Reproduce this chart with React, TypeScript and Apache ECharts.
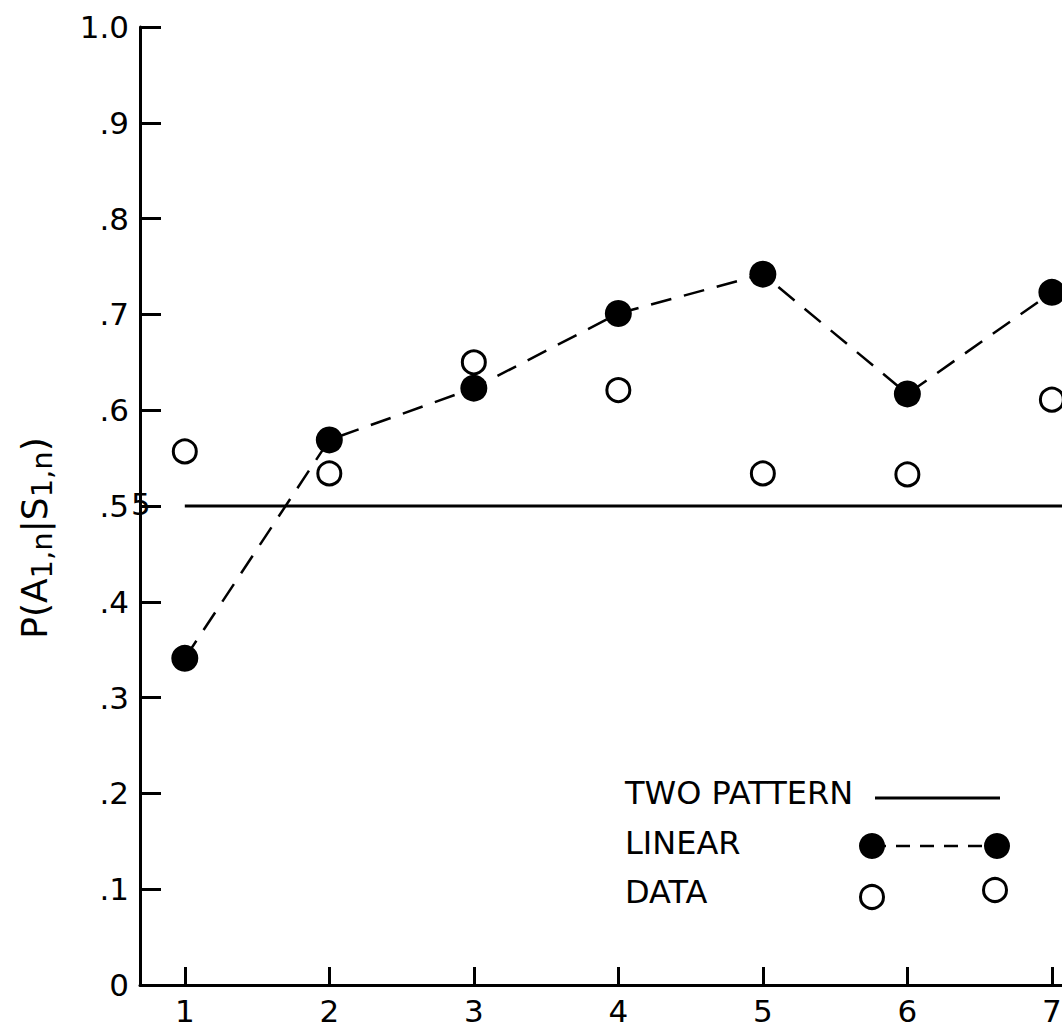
import React, { useEffect, useRef } from "react";
import * as echarts from "echarts";

const xTicks = [1, 2, 3, 4, 5, 6, 7];
const linearValues = [0.341, 0.569, 0.623, 0.701, 0.742, 0.617, 0.723];
const dataValues = [0.557, 0.534, 0.65, 0.621, 0.534, 0.533, 0.611];
const twoPatternValue = 0.5;
const twoPatternRange = [1, 7.07];
const legendItems = ["TWO PATTERN", "LINEAR", "DATA"];

const FONT = "DejaVu Sans";

function yLabel(v: number): string {
  if (v === 0) return "0";
  if (Math.abs(v - 1) < 1e-9) return "1.0";
  return "." + Math.round(v * 10);
}

export default function App() {
  const ref = useRef<HTMLDivElement>(null);
  useEffect(() => {
    document.body.style.margin = "0";
    const chart = echarts.init(ref.current!, null, { renderer: "svg" });
    const option: any = {
      animation: false,
      backgroundColor: "#ffffff",
      grid: { left: 140, right: 0, top: 27, bottom: 43, containLabel: false, outerBoundsMode: "none" },
      xAxis: {
        type: "value",
        min: 0.69,
        max: 7.07,
        splitLine: { show: false },
        axisLine: { show: true, onZero: false, lineStyle: { color: "#000", width: 3 } },
        axisTick: { show: true, inside: true, length: 18, customValues: xTicks, lineStyle: { color: "#000", width: 3 } },
        axisLabel: {
          customValues: xTicks,
          color: "#000",
          fontFamily: FONT,
          fontSize: 31,
          margin: 10,
          formatter: (v: number) => String(v),
        },
      },
      yAxis: {
        type: "value",
        min: 0,
        max: 1,
        interval: 0.1,
        splitLine: { show: false },
        axisLine: { show: true, lineStyle: { color: "#000", width: 3 } },
        axisTick: { show: true, inside: true, length: 21, lineStyle: { color: "#000", width: 3 } },
        axisLabel: {
          color: "#000",
          fontFamily: FONT,
          fontSize: 31,
          margin: 11,
          formatter: (v: number) => yLabel(v),
        },
        name: "{m|P(A}{s|1,n}{m||S}{s|1,n}{m|)}",
        nameLocation: "middle",
        nameGap: 84,
        nameRotate: 90,
        nameTextStyle: {
          color: "#000",
          fontFamily: FONT,
          padding: [0, 64, 0, 0],
          rich: {
            m: { fontSize: 36, fontFamily: FONT, color: "#000", lineHeight: 40, verticalAlign: "top" },
            s: { fontSize: 29, fontFamily: FONT, color: "#000", lineHeight: 29, padding: [24, 0, 0, 0], verticalAlign: "bottom" },
          },
        },
      },
      series: [
        {
          name: "TWO PATTERN",
          type: "line",
          data: twoPatternRange.map((x) => [x, twoPatternValue]),
          symbol: "none",
          lineStyle: { color: "#000", width: 3, type: "solid" },
          z: 1,
        },
        {
          name: "LINEAR",
          type: "line",
          data: xTicks.map((x, i) => [x, linearValues[i]]),
          symbol: "circle",
          symbolSize: 27,
          itemStyle: { color: "#000", borderWidth: 0 },
          lineStyle: { color: "#000", width: 2.5, type: [21, 13] },
          z: 3,
        },
        {
          name: "DATA",
          type: "scatter",
          data: xTicks.map((x, i) => [x, dataValues[i]]),
          symbol: "circle",
          symbolSize: 23,
          itemStyle: { color: "#fff", borderColor: "#000", borderWidth: 3, opacity: 1 },
          z: 4,
        },
      ],
    };
    chart.setOption(option);
    const yPix = chart.convertToPixel({ yAxisIndex: 0 }, 0.5) as number;
    chart.setOption({
      graphic: [
        {
          type: "text",
          left: 131,
          top: yPix - 18,
          style: { text: "5", fontFamily: FONT, fontSize: 31, fill: "#000" },
          z: 10,
        },
        {
          type: "text",
          left: 625,
          top: 777,
          style: { text: legendItems[0], fontFamily: FONT, fontSize: 32, fill: "#000" },
        },
        {
          type: "text",
          left: 625,
          top: 827,
          style: { text: legendItems[1], fontFamily: FONT, fontSize: 32, fill: "#000" },
        },
        {
          type: "text",
          left: 625,
          top: 876,
          style: { text: legendItems[2], fontFamily: FONT, fontSize: 32, fill: "#000" },
        },
        {
          type: "line",
          shape: { x1: 875, y1: 798, x2: 1000, y2: 798 },
          style: { stroke: "#000", lineWidth: 3 },
        },
        {
          type: "line",
          shape: { x1: 872, y1: 846, x2: 997, y2: 846 },
          style: { stroke: "#000", lineWidth: 2.5, lineDash: [14, 10] },
        },
        { type: "circle", shape: { cx: 872, cy: 846, r: 13 }, style: { fill: "#000" } },
        { type: "circle", shape: { cx: 997, cy: 846, r: 13 }, style: { fill: "#000" } },
        { type: "circle", shape: { cx: 872, cy: 897, r: 11.5 }, style: { fill: "#fff", stroke: "#000", lineWidth: 3 } },
        { type: "circle", shape: { cx: 995, cy: 890, r: 11.5 }, style: { fill: "#fff", stroke: "#000", lineWidth: 3 } },
      ],
    });
    return () => chart.dispose();
  }, []);
  return (
    <div
      ref={ref}
      style={{ position: "absolute", left: 0, top: 0, width: 1062, height: 1028 }}
    />
  );
}
